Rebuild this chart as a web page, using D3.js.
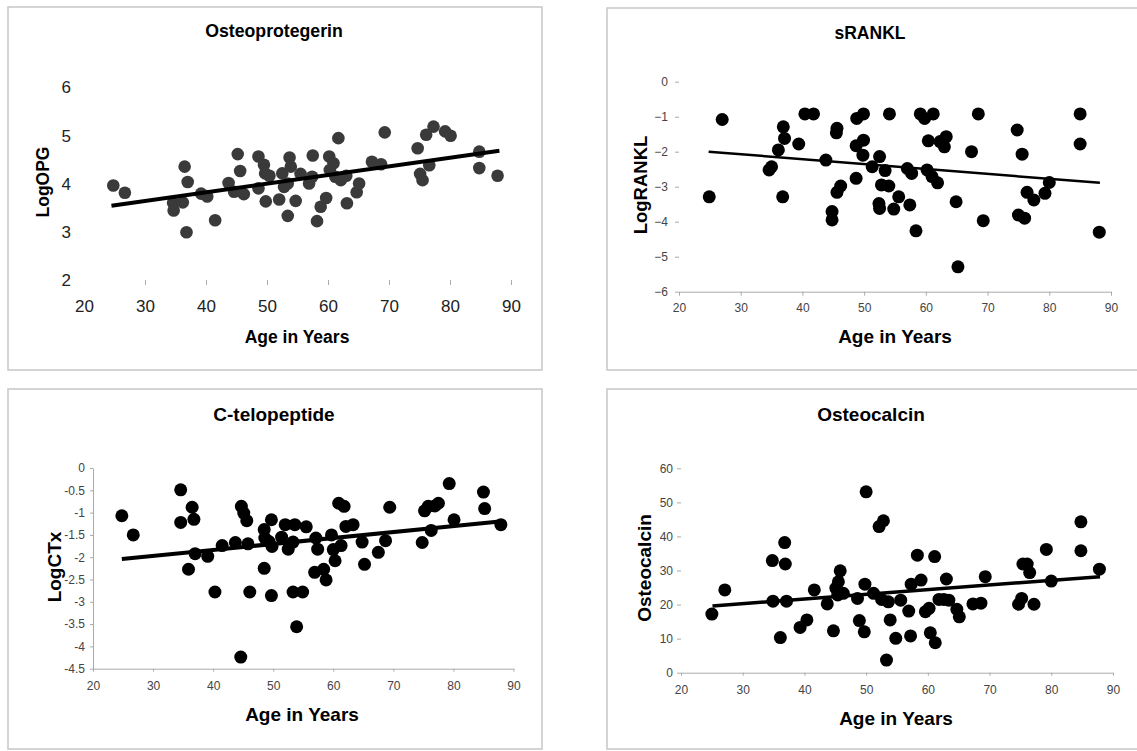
<!DOCTYPE html>
<html><head><meta charset="utf-8">
<script src="https://cdn.jsdelivr.net/npm/d3@7"></script>
<style>
body{margin:0;background:#fff;}
svg{display:block;font-family:"Liberation Sans",Arial,Helvetica,sans-serif;}
</style></head><body>
<svg id="c" width="1137" height="751"></svg>
<script>
// ---------- data ----------
const xTicks = [20, 30, 40, 50, 60, 70, 80, 90];
const opgTicks = [2, 3, 4, 5, 6];
const ranklTicks = [0, -1, -2, -3, -4, -5, -6];
const ctxTicks = [0, -0.5, -1, -1.5, -2, -2.5, -3, -3.5, -4, -4.5];
const ocTicks = [0, 10, 20, 30, 40, 50, 60];

const titles = ["Osteoprotegerin", "sRANKL", "C-telopeptide", "Osteocalcin"];
const yTitles = ["LogOPG", "LogRANKL", "LogCTx", "Osteocalcin"];
const xTitle = "Age in Years";

const opgPoints = [[24.8,3.97],[26.7,3.82],[34.6,3.61],[34.7,3.45],[36.2,3.62],[36.5,4.36],[37.0,4.04],[36.8,3.0],[39.2,3.80],[40.2,3.74],[41.5,3.25],[43.7,4.02],[44.6,3.84],[45.2,4.62],[45.6,4.27],[46.2,3.79],[48.6,4.57],[48.6,3.91],[49.5,4.40],[49.7,4.22],[49.8,3.64],[50.4,4.17],[52.0,3.68],[52.5,4.22],[52.8,3.94],[53.4,4.01],[53.7,4.55],[53.9,4.36],[53.4,3.34],[54.7,3.65],[55.5,4.21],[56.9,4.01],[57.5,4.59],[57.4,4.15],[58.2,3.23],[58.8,3.53],[59.7,3.71],[60.2,4.57],[60.3,4.29],[60.9,4.43],[61.2,4.15],[61.7,4.95],[62.1,4.08],[63.0,4.17],[63.1,3.60],[64.7,3.83],[65.1,4.01],[67.2,4.46],[68.7,4.41],[69.3,5.07],[74.7,4.74],[75.1,4.21],[75.5,4.08],[76.1,5.02],[76.6,4.39],[77.3,5.19],[79.2,5.09],[80.1,5.00],[84.8,4.67],[84.8,4.33],[87.8,4.17]];
const opgTrend = [[24.5,3.55],[88.1,4.69]];

const ranklPoints = [[24.9,-3.29],[27.0,-1.08],[34.6,-2.52],[35.0,-2.43],[36.1,-1.95],[36.9,-1.29],[37.1,-1.62],[36.8,-3.29],[39.4,-1.78],[40.4,-0.92],[41.8,-0.92],[43.8,-2.24],[44.8,-3.71],[44.8,-3.95],[45.6,-1.33],[45.5,-1.46],[45.6,-3.16],[46.2,-2.98],[48.8,-1.05],[48.7,-2.76],[48.7,-1.83],[49.9,-0.92],[49.9,-1.67],[49.8,-2.10],[51.3,-2.43],[52.5,-2.14],[53.4,-2.54],[52.4,-3.48],[52.5,-3.62],[52.8,-2.95],[54.0,-2.98],[54.1,-0.92],[54.8,-3.64],[55.6,-3.29],[57.0,-2.48],[57.4,-3.52],[57.7,-2.62],[58.4,-4.26],[59.1,-0.92],[59.8,-1.05],[60.2,-2.52],[60.4,-1.69],[61.0,-2.71],[61.2,-0.92],[61.9,-2.89],[62.3,-1.71],[63.0,-1.86],[63.3,-1.57],[64.9,-3.43],[65.2,-5.29],[67.4,-2.0],[68.5,-0.92],[69.3,-3.97],[74.8,-1.38],[75.6,-2.07],[75.0,-3.81],[76.0,-3.90],[76.4,-3.16],[77.5,-3.38],[79.3,-3.19],[80.0,-2.88],[85.0,-0.92],[85.0,-1.78],[88.1,-4.30]];
const ranklTrend = [[24.8,-2.0],[88.2,-2.89]];

const ctxPoints = [[24.8,-1.07],[26.7,-1.50],[34.6,-0.49],[34.6,-1.22],[36.5,-0.88],[36.8,-1.15],[35.9,-2.27],[37.0,-1.92],[39.1,-1.98],[40.3,-2.78],[41.5,-1.74],[43.7,-1.67],[44.6,-4.24],[44.7,-0.86],[45.1,-1.01],[45.6,-1.18],[45.8,-1.70],[46.1,-2.78],[48.5,-1.38],[48.6,-1.57],[48.5,-2.25],[49.7,-1.16],[49.8,-1.76],[49.7,-2.86],[49.3,-1.65],[51.4,-1.55],[52.0,-1.27],[52.5,-1.82],[53.3,-1.66],[53.6,-1.27],[53.3,-2.78],[53.9,-3.56],[54.9,-2.78],[55.5,-1.32],[57.1,-1.57],[56.9,-2.34],[57.4,-1.82],[58.4,-2.27],[58.8,-2.51],[59.7,-1.50],[60.0,-1.83],[60.3,-2.08],[60.9,-0.79],[61.8,-0.86],[61.3,-1.74],[62.1,-1.31],[63.3,-1.27],[64.8,-1.66],[65.2,-2.16],[67.5,-1.89],[68.7,-1.63],[69.4,-0.88],[74.8,-1.67],[75.2,-0.96],[75.8,-0.86],[76.3,-1.40],[76.9,-0.85],[77.5,-0.79],[79.3,-0.35],[80.1,-1.16],[85.0,-0.54],[85.2,-0.91],[87.9,-1.27]];
const ctxTrend = [[24.8,-2.04],[87.7,-1.20]];

const ocPoints = [[25.0,17.2],[27.1,24.3],[34.8,32.9],[34.9,21.0],[36.1,10.3],[36.8,38.2],[36.9,31.9],[37.1,21.0],[39.3,13.3],[40.4,15.5],[41.6,24.3],[43.7,20.2],[44.7,12.3],[45.1,24.8],[45.5,26.7],[45.8,29.9],[45.4,22.8],[46.3,23.3],[48.6,21.8],[48.9,15.3],[49.7,12.0],[49.8,26.0],[50.0,53.1],[51.2,23.3],[52.1,42.9],[52.8,44.6],[52.5,21.5],[53.3,3.7],[53.6,20.8],[53.9,15.5],[54.8,10.1],[55.6,21.3],[56.9,18.1],[57.3,26.0],[57.2,10.8],[58.3,34.5],[58.9,27.2],[59.6,17.9],[60.2,18.9],[60.4,11.7],[61.1,34.1],[61.2,8.8],[61.8,21.5],[62.6,21.5],[63.0,27.5],[63.4,21.3],[64.7,18.6],[65.1,16.4],[67.3,20.2],[68.6,20.4],[69.3,28.2],[74.7,20.1],[75.2,21.8],[75.4,31.9],[76.1,31.9],[76.5,29.4],[77.2,20.1],[79.2,36.2],[80.0,26.9],[84.8,44.3],[84.8,35.8],[87.8,30.4]];
const ocTrend = [[25.1,19.6],[87.9,28.2]];

// ---------- layout ----------
const layout = [
  {box:[8,7,534,363], xr:[84,511], yd:[2,6], yr:[280.5,87.5], axisY:280, xDomain:false, yDomain:false,
   xTick:5, xPad:15, yAxisX:84, yTick:0, yPad:13, tickFont:17, tickColor:"#222",
   t:[274,31,17.7], xl:[297,337,17.5], yl:[43,182,17.5], dot:"#3a3a3a", r:6.3, lw:4, hideFirstX:true},
  {box:[607,8,540,362], xr:[679,1111], yd:[-6,0], yr:[291.7,81.7], axisY:291.7, xDomain:true, yDomain:false,
   xTick:4, xPad:8, yAxisX:679, yTick:4, yPad:7, tickFont:12, tickColor:"#444",
   t:[870,33,17.5], xl:[895,336,19], yl:[641,185,18.5], dot:"#000", r:6.5, lw:2.5},
  {box:[8,389,534,360], xr:[93,513.5], yd:[-4.5,0], yr:[668.7,468], axisY:668.7, xDomain:true, yDomain:true,
   xTick:3, xPad:10, yAxisX:93, yTick:3, yPad:5, tickFont:12, tickColor:"#444",
   t:[274,414,19], xl:[302,714,19], yl:[54,567,19], dot:"#000", r:6.5, lw:4},
  {box:[607,389,540,360], xr:[681,1113], yd:[0,60], yr:[672.7,468.3], axisY:672.7, xDomain:true, yDomain:false,
   xTick:3, xPad:10, yAxisX:681, yTick:4, yPad:4, tickFont:12, tickColor:"#444",
   t:[871,414,19], xl:[896,718,19], yl:[644,568,19], dot:"#000", r:6.5, lw:3.5}
];
const series = [
  {points:opgPoints, trend:opgTrend, yTicks:opgTicks, fmt:d3.format("d")},
  {points:ranklPoints, trend:ranklTrend, yTicks:ranklTicks, fmt:d3.format("d")},
  {points:ctxPoints, trend:ctxTrend, yTicks:ctxTicks, fmt:d=>String(d)},
  {points:ocPoints, trend:ocTrend, yTicks:ocTicks, fmt:d3.format("d")}
];

const svg = d3.select("#c");
svg.append("rect").attr("width",1137).attr("height",751).attr("fill","#fff");

series.forEach((s,i)=>{
  const L = layout[i];
  const g = svg.append("g");
  g.append("rect").attr("x",L.box[0]).attr("y",L.box[1]).attr("width",L.box[2]).attr("height",L.box[3])
    .attr("fill","#fff").attr("stroke","#c6c6c6").attr("stroke-width",1.5);

  const x = d3.scaleLinear().domain([20,90]).range(L.xr);
  const y = d3.scaleLinear().domain(L.yd).range(L.yr);

  // x axis
  const xa = g.append("g").attr("transform",`translate(0,${L.axisY})`)
    .call(d3.axisBottom(x).tickValues(xTicks).tickSize(L.xTick).tickPadding(L.xPad).tickSizeOuter(0));
  if(!L.xDomain) xa.select(".domain").remove();
  else xa.select(".domain").attr("stroke","#aaa");
  xa.selectAll(".tick line").attr("stroke","#aaa");
  if(L.hideFirstX) xa.selectAll(".tick line").filter(d=>d===20).remove();
  xa.selectAll(".tick text").attr("font-size",L.tickFont).attr("fill",L.tickColor)
    .attr("font-family",'"Liberation Sans",Arial,sans-serif');

  // y axis
  const ya = g.append("g").attr("transform",`translate(${L.yAxisX},0)`)
    .call(d3.axisLeft(y).tickValues(s.yTicks).tickFormat(s.fmt).tickSize(L.yTick).tickPadding(L.yPad).tickSizeOuter(0));
  if(!L.yDomain) ya.select(".domain").remove();
  else ya.select(".domain").attr("stroke","#aaa");
  ya.selectAll(".tick line").attr("stroke","#aaa");
  ya.selectAll(".tick text").attr("font-size",L.tickFont).attr("fill",L.tickColor)
    .attr("font-family",'"Liberation Sans",Arial,sans-serif');

  // points
  g.append("g").selectAll("circle").data(s.points).join("circle")
    .attr("cx",d=>x(d[0])).attr("cy",d=>y(d[1])).attr("r",L.r).attr("fill",L.dot);

  // trend line
  g.append("path").datum(s.trend)
    .attr("d",d3.line().x(d=>x(d[0])).y(d=>y(d[1])))
    .attr("fill","none").attr("stroke","#000").attr("stroke-width",L.lw);

  // titles
  g.append("text").attr("x",L.t[0]).attr("y",L.t[1]).attr("dy","0.35em").attr("text-anchor","middle")
    .attr("font-size",L.t[2]).attr("font-weight","bold").attr("fill","#000").text(titles[i]);
  g.append("text").attr("x",L.xl[0]).attr("y",L.xl[1]).attr("dy","0.35em").attr("text-anchor","middle")
    .attr("font-size",L.xl[2]).attr("font-weight","bold").attr("fill","#000").text(xTitle);
  g.append("text").attr("transform",`translate(${L.yl[0]},${L.yl[1]}) rotate(-90)`).attr("dy","0.35em")
    .attr("text-anchor","middle").attr("font-size",L.yl[2]).attr("font-weight","bold").attr("fill","#000").text(yTitles[i]);
});
</script>
</body></html>
